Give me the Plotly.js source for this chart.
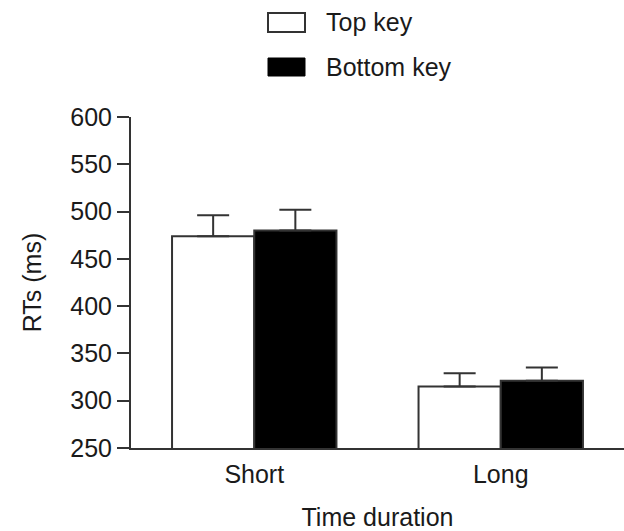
<!DOCTYPE html>
<html>
<head>
<meta charset="utf-8">
<script src="https://cdn.plot.ly/plotly-3.0.1.min.js"></script>
<style>html,body{margin:0;padding:0;background:#fff;}#chart{width:624px;height:531px;}</style>
</head>
<body>
<div id="chart"></div>
<script>
const categories = ["Short", "Long"];
const seriesNames = ["Top key", "Bottom key"];
const topKeyValues = [474, 315];
const bottomKeyValues = [480, 321];
const topKeyErr = [22, 14];
const bottomKeyErr = [22, 14];
const yTicks = [250, 300, 350, 400, 450, 500, 550, 600];

const axisColor = "#333333";
const font = {family: "Liberation Sans, Arial, sans-serif", size: 25, color: "#1a1a1a"};

const traces = [
  {
    type: "bar", name: seriesNames[0], x: categories, y: topKeyValues,
    marker: {color: "#ffffff", line: {color: axisColor, width: 2}},
    error_y: {type: "data", symmetric: false, array: topKeyErr, arrayminus: [0, 0], color: axisColor, thickness: 2, width: 16},
    showlegend: false
  },
  {
    type: "bar", name: seriesNames[1], x: categories, y: bottomKeyValues,
    marker: {color: "#000000", line: {color: axisColor, width: 2}},
    error_y: {type: "data", symmetric: false, array: bottomKeyErr, arrayminus: [0, 0], color: axisColor, thickness: 2, width: 16},
    showlegend: false
  }
];

const layout = {
  width: 624, height: 531,
  margin: {l: 131, r: 0, t: 117, b: 83},
  paper_bgcolor: "#ffffff", plot_bgcolor: "#ffffff",
  font: font,
  barmode: "group", bargap: 0.333, bargroupgap: 0,
  xaxis: {
    type: "category", range: [-0.5, 1.5],
    showline: true, linecolor: axisColor, linewidth: 2,
    ticks: "", showgrid: false, zeroline: false,
    tickfont: font, ticklabelstandoff: 3,
    title: {text: "Time duration", font: font, standoff: 26}
  },
  yaxis: {
    range: [250, 600], tickvals: yTicks,
    showline: true, linecolor: axisColor, linewidth: 2,
    ticks: "outside", ticklen: 12, tickwidth: 2, tickcolor: axisColor,
    showgrid: false, zeroline: false,
    tickfont: font,
    title: {text: "RTs (ms)", font: font, standoff: 22}
  },
  shapes: [
    {type: "rect", xref: "paper", yref: "paper", x0: 137/493, x1: 174/493, y0: (531-83-32)/331, y1: (531-83-13)/331, fillcolor: "#ffffff", line: {color: axisColor, width: 2}},
    {type: "rect", xref: "paper", yref: "paper", x0: 137/493, x1: 174/493, y0: (531-83-76)/331, y1: (531-83-58)/331, fillcolor: "#000000", line: {color: "#000000", width: 1}}
  ],
  annotations: [
    {text: seriesNames[0], xref: "paper", yref: "paper", x: 193/493, y: (531-83-22)/331, xanchor: "left", yanchor: "middle", showarrow: false, font: font},
    {text: seriesNames[1], xref: "paper", yref: "paper", x: 193/493, y: (531-83-67)/331, xanchor: "left", yanchor: "middle", showarrow: false, font: font}
  ]
};

Plotly.newPlot("chart", traces, layout, {displayModeBar: false, staticPlot: true});
</script>
</body>
</html>
